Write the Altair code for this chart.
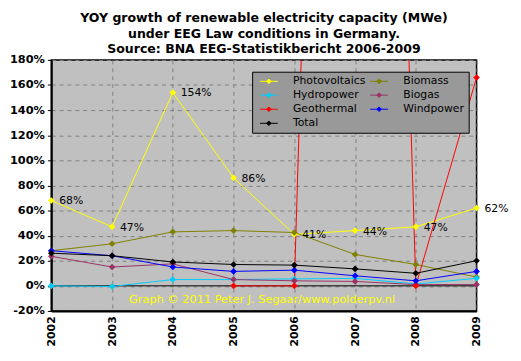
import altair as alt
import pandas as pd

years = [2002, 2003, 2004, 2005, 2006, 2007, 2008, 2009]
series_names = ["Photovoltaics", "Biomass", "Hydropower", "Biogas",
                "Geothermal", "Windpower", "Total"]
series_colors = ["#FFFF00", "#808000", "#00CCFF", "#993366",
                 "#FF0000", "#0000FF", "#000000"]
# legend reading order (two columns, filled top to bottom)
legend_order = ["Photovoltaics", "Hydropower", "Geothermal", "Total",
                "Biomass", "Biogas", "Windpower"]

pv = [68, 47, 154, 86, 41, 44, 47, 62]
biomass = [28, 33.5, 43, 44, 42.5, 25, 17, 7]
hydro = [0, -0.5, 5, 5, 5.5, 6, 1.5, 6]
biogas = [23.5, 15, 17.5, 5, 4, 3.5, 1, 1]
geo = [None, None, None, 0, 0, 1600, 0, 166]
wind = [28, 24, 15, 11.5, 12.5, 8, 4, 11.5]
total = [26, 24, 19, 17, 16.5, 13.5, 10, 20]

y_ticks = [-20, 0, 20, 40, 60, 80, 100, 120, 140, 160, 180]
title_lines = ["YOY growth of renewable electricity capacity (MWe)",
               "under EEG Law conditions in Germany.",
               "Source: BNA EEG-Statistikbericht 2006-2009"]
watermark = ["Graph \u00a9 2011 Peter J. Segaar/www.polderpv.nl"]
watermark_pos = {"year": [2005.47], "value": [-11]}

rows = []
for name, vals in zip(series_names, [pv, biomass, hydro, biogas, geo, wind, total]):
    for yr, v in zip(years, vals):
        if v is not None:
            rows.append({"year": yr, "series": name, "value": v})
df = pd.DataFrame(rows)
pv_df = df[df.series == "Photovoltaics"].copy()
pv_df["label"] = pv_df["value"].round(0).astype(int).astype(str) + "%"
zero_df = pd.DataFrame({"value": [0]})
wm_df = pd.DataFrame({**watermark_pos, "t": watermark})

color_of = dict(zip(series_names, series_colors))
legend_colors = [color_of[s] for s in legend_order]
legend_widths = [3 if s == "Total" else 1 for s in legend_order]
legend_sizes = [130 if s == "Total" else 45 for s in legend_order]

x_axis = alt.Axis(values=years, format="d", labelAngle=270, labelAlign="right",
                  labelBaseline="middle", labelPadding=5, tickSize=0,
                  labelFontSize=11, labelOverlap=False, title=None)
y_axis = alt.Axis(values=y_ticks, labelExpr="datum.value + '%'", tickSize=4,
                  labelPadding=3, labelFontSize=11.5, labelOverlap=False,
                  title=None)
x = alt.X("year:Q", scale=alt.Scale(domain=[2002, 2009], nice=False, zero=False),
          axis=x_axis)
y = alt.Y("value:Q", scale=alt.Scale(domain=[-20, 180], nice=False, zero=False),
          axis=y_axis)

legend_path = "M-2.7,0L2.7,0M0,-0.7L0.7,0L0,0.7L-0.7,0Z"
color = alt.Color("series:N", scale=alt.Scale(domain=legend_order, range=legend_colors),
                  legend=alt.Legend(title=None, orient="none", legendX=204, legendY=12,
                                    columns=2, symbolType=legend_path, symbolSize=100,
                                    symbolOffset=7.5, labelOffset=19,
                                    rowPadding=2.3, columnPadding=0,
                                    labelFont="DejaVu Sans", labelFontSize=11,
                                    labelColor="black", padding=4,
                                    fillColor="#999999", strokeColor="black"))
sw = alt.StrokeWidth("series:N",
                     scale=alt.Scale(domain=legend_order, range=legend_widths),
                     legend=alt.Legend(title=None))

zero = alt.Chart(zero_df).mark_rule(color="black", strokeWidth=1).encode(y=y)

lines = alt.Chart(df).mark_line(clip=True).encode(x=x, y=y, color=color, strokeWidth=sw)

points = alt.Chart(df).transform_filter(
    (alt.datum.value <= 180) & (alt.datum.value >= -20)
).mark_point(filled=True, shape="diamond", opacity=1).encode(
    x=x, y=y,
    fill=alt.Fill("series:N", scale=alt.Scale(domain=legend_order, range=legend_colors),
                  legend=None),
    size=alt.Size("series:N", scale=alt.Scale(domain=legend_order, range=legend_sizes),
                  legend=None))

labels = alt.Chart(pv_df).mark_text(align="left", baseline="middle", dx=8, dy=1,
                                    font="DejaVu Sans", fontSize=11, color="black").encode(
    x=x, y=y, text="label:N")

wm = alt.Chart(wm_df).mark_text(
    font="DejaVu Sans", fontSize=11.5, color="#FFFF00", align="center",
    baseline="middle").encode(x=x, y=y, text="t:N")

chart = alt.layer(zero, lines, points, labels, wm).properties(
    width=432, height=255,
    autosize=alt.AutoSizeParams(type="none"),
    padding={"left": 44, "top": 50, "right": 37, "bottom": 40},
    background="white",
    title=alt.Title(title_lines, font="DejaVu Sans", fontSize=12.7, fontWeight="bold",
                    lineHeight=16, offset=4, dy=6, anchor="middle", color="black"),
).configure_view(fill="#C0C0C0", stroke="black", strokeWidth=1.5).configure_axis(
    domainColor="black", domainWidth=2, tickColor="black",
    labelFont="DejaVu Sans", labelFontWeight="bold", labelColor="black",
    gridColor="#808080", gridDash=[4, 4], gridWidth=1, grid=True,
    labelOverlap=False).configure_axisY(labelOverlap=False)

chart.save("out.html", embed_options={"renderer": "svg", "actions": False})
